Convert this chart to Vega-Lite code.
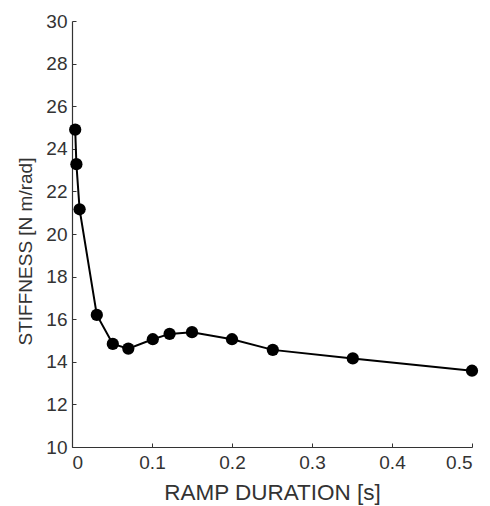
{
  "$schema": "https://vega.github.io/schema/vega-lite/v6.json",
  "width": 400,
  "height": 426,
  "autosize": {"type": "none"},
  "padding": {"left": 72, "top": 21, "right": 18, "bottom": 59},
  "background": "white",
  "config": {
    "view": {"stroke": null},
    "font": "Liberation Sans",
    "axis": {
      "grid": false,
      "domainColor": "#333333",
      "domainWidth": 1.2,
      "tickColor": "#333333",
      "tickSize": -4,
      "labelFont": "Liberation Sans",
      "labelFontSize": 19,
      "labelColor": "#333333",
      "titleFont": "Liberation Sans",
      "titleFontWeight": "normal",
      "titleColor": "#333333"
    }
  },
  "data": {
    "values": [
      {"t": 0.004, "k": 24.9},
      {"t": 0.0055, "k": 23.28},
      {"t": 0.0095, "k": 21.16},
      {"t": 0.031, "k": 16.2},
      {"t": 0.051, "k": 14.84},
      {"t": 0.0704, "k": 14.62},
      {"t": 0.101, "k": 15.06},
      {"t": 0.122, "k": 15.31},
      {"t": 0.15, "k": 15.39},
      {"t": 0.2, "k": 15.06},
      {"t": 0.251, "k": 14.56},
      {"t": 0.351, "k": 14.16},
      {"t": 0.5, "k": 13.58}
    ]
  },
  "encoding": {
    "x": {
      "field": "t",
      "type": "quantitative",
      "scale": {"domain": [0, 0.5], "nice": false, "zero": false},
      "axis": {
        "title": "RAMP DURATION [s]",
        "titleFontSize": 22.5,
        "values": [0, 0.1, 0.2, 0.3, 0.4, 0.5],
        "labelExpr": "datum.value == 0 ? '0' : format(datum.value, '.1f')",
        "labelPadding": 10,
        "titleY": 52,
        "titleBaseline": "alphabetic"
      }
    },
    "y": {
      "field": "k",
      "type": "quantitative",
      "scale": {"domain": [10, 30], "nice": false, "zero": false},
      "axis": {
        "title": "STIFFNESS [N m/rad]",
        "titleFontSize": 19,
        "values": [10, 12, 14, 16, 18, 20, 22, 24, 26, 28, 30],
        "labelPadding": 9,
        "titleX": -47,
        "titleY": 230,
        "titleAlign": "center",
        "titleBaseline": "middle",
        "titleAngle": -90
      }
    }
  },
  "layer": [
    {"mark": {"type": "line", "color": "black", "strokeWidth": 2}},
    {"mark": {"type": "point", "filled": true, "color": "black", "opacity": 1, "size": 150}}
  ]
}
